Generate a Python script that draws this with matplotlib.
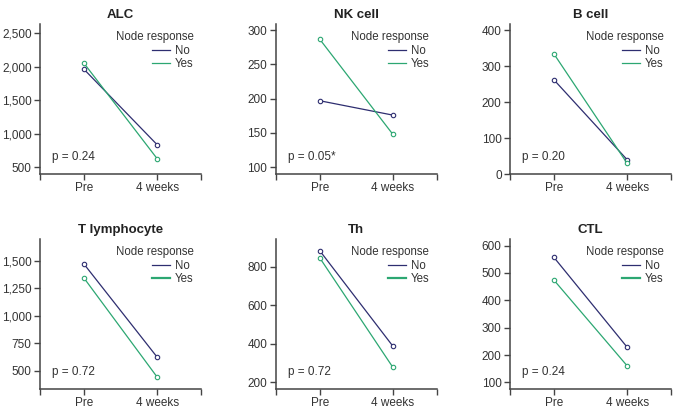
import matplotlib
matplotlib.use('Agg')
import matplotlib.pyplot as plt
from matplotlib.lines import Line2D

plt.rcParams['font.family'] = ['Liberation Sans', 'DejaVu Sans']

timepoints = ['Pre', '4 weeks']
titles = ['ALC', 'NK cell', 'B cell', 'T lymphocyte', 'Th', 'CTL']
no_values = [[1965, 838], [197, 176], [262, 40], [1470, 624], [884, 388], [557, 229]]
yes_values = [[2055, 630], [287, 148], [334, 30], [1343, 443], [847, 278], [474, 161]]
p_labels = ['p = 0.24', 'p = 0.05*', 'p = 0.20', 'p = 0.72', 'p = 0.72', 'p = 0.24']
y_ticks = [
    [500, 1000, 1500, 2000, 2500],
    [100, 150, 200, 250, 300],
    [0, 100, 200, 300, 400],
    [500, 750, 1000, 1250, 1500],
    [200, 400, 600, 800],
    [100, 200, 300, 400, 500, 600],
]
y_limits = [(400, 2640), (90, 309), (0, 417), (334, 1697), (165, 944), (76, 624)]

no_color = '#2e2e70'
yes_color = '#2ca772'
axis_color = '#444444'
text_color = '#333333'

fig = plt.figure(figsize=(6.83, 4.11), dpi=100)

lefts = [0.0586, 0.4037, 0.7467]
bottoms = [0.5766, 0.0535]
w, h = 0.2357, 0.365

for i, title in enumerate(titles):
    ax = fig.add_axes([lefts[i % 3], bottoms[i // 3], w, h])
    x = [0, 1]
    ax.plot(x, no_values[i], color=no_color, lw=0.9, marker='o', ms=3.2,
            mfc='white', mec=no_color, mew=0.8, zorder=3)
    ax.plot(x, yes_values[i], color=yes_color, lw=0.9, marker='o', ms=3.2,
            mfc='white', mec=yes_color, mew=0.8, zorder=3)

    ax.set_xlim(-0.6, 1.6)
    ax.set_xticks([-0.6, 0, 1, 1.6])
    ax.set_xticklabels(['', timepoints[0], timepoints[1], ''])
    ax.set_ylim(*y_limits[i])
    ax.set_yticks(y_ticks[i])
    ax.set_yticklabels([f'{v:,}' for v in y_ticks[i]])

    for s in ['top', 'right']:
        ax.spines[s].set_visible(False)
    for s in ['left', 'bottom']:
        ax.spines[s].set_color(axis_color)
        ax.spines[s].set_linewidth(1.1)
    ax.tick_params(direction='out', length=4, width=1, color=axis_color,
                   labelsize=8.5, labelcolor=text_color, pad=2)

    ax.set_title(title, fontsize=9.5, fontweight='bold', color='#222222', pad=4)
    ax.text(0.075, 0.115, p_labels[i], transform=ax.transAxes, fontsize=8.5,
            color=text_color, va='center', ha='left')

    yes_lw = 0.9 if i < 3 else 1.6
    handles = [Line2D([], [], color=no_color, lw=0.9),
               Line2D([], [], color=yes_color, lw=yes_lw)]
    leg = ax.legend(handles, ['No', 'Yes'], title='Node response', loc='upper right',
                    bbox_to_anchor=(1.0, 1.0), frameon=False, fontsize=8.3,
                    title_fontsize=8.3, alignment='right', handlelength=1.6,
                    handletextpad=0.4, labelspacing=0.1, borderpad=0.15)
    for t in leg.get_texts():
        t.set_color(text_color)
    leg.get_title().set_color(text_color)

fig.savefig('out.png', dpi=100)
